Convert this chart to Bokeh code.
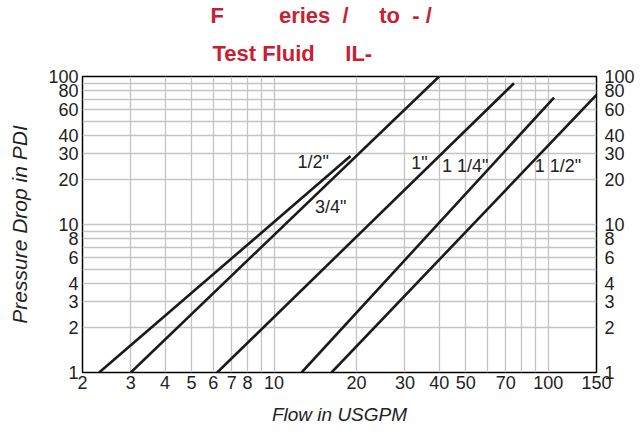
from bokeh.plotting import figure
from bokeh.models import FixedTicker, LogAxis, Title, CustomJSTickFormatter, ColumnDataSource, Range1d
from bokeh.core.properties import value
from bokeh.embed import file_html
from bokeh.resources import INLINE

# ---- data ----
sizes = ['1/2"', '3/4"', '1"', '1 1/4"', '1 1/2"']
flow_start = [2.3, 3.0, 6.2, 12.6, 16.2]
flow_end = [19.0, 40.0, 75.0, 105.0, 150.0]
pd_start = [1.0, 1.0, 1.0, 1.0, 1.0]
pd_end = [29.0, 100.0, 90.0, 72.0, 75.0]

label_flow = [13.9, 16.1, 33.9, 49.8, 108.6]
label_pd = [26.6, 13.2, 26.2, 25.0, 25.0]

x_ticks = [2, 3, 4, 5, 6, 7, 8, 10, 20, 30, 40, 50, 70, 100, 150]
y_ticks = [1, 2, 3, 4, 6, 8, 10, 20, 30, 40, 60, 80, 100]
x_grid = [2, 3, 4, 5, 6, 7, 8, 9, 10, 20, 30, 40, 50, 60, 70, 80, 90, 100]
y_grid = [1, 2, 3, 4, 5, 6, 7, 8, 9, 10, 20, 30, 40, 50, 60, 70, 80, 90, 100]

NB = "\u00a0"
title_line1 = "F" + NB * 9 + "eries" + NB * 2 + "/" + NB * 5 + "to" + NB * 2 + "-" + NB + "/"
title_line2 = "Test Fluid" + NB * 5 + "IL-"

FONT = "Liberation Sans"
RED = "#c62032"
TXT = "#222222"

p = figure(x_axis_type="log", y_axis_type="log",
           x_range=Range1d(2, 150), y_range=Range1d(1, 100),
           frame_width=514, frame_height=296,
           min_border_left=10, min_border_right=0, min_border_top=10, min_border_bottom=10,
           output_backend="svg", toolbar_location=None,
           background_fill_color="white", border_fill_color="white")
p.margin = (0, 0, 0, 5)

p.outline_line_color = "black"
p.outline_line_width = 1.5

fmt = CustomJSTickFormatter(code="return String(Math.round(tick));")

for ax in [p.xaxis[0], p.yaxis[0]]:
    ax.major_tick_line_color = None
    ax.minor_tick_line_color = None
    ax.axis_line_color = None
    ax.major_label_text_font = FONT
    ax.major_label_text_font_size = "18px"
    ax.major_label_text_color = TXT
    ax.axis_label_text_font = FONT
    ax.axis_label_text_font_style = "italic"
    ax.axis_label_text_color = TXT
    ax.formatter = fmt
    ax.major_tick_out = 0
    ax.major_tick_in = 0

p.xaxis[0].ticker = FixedTicker(ticks=x_ticks)
p.yaxis[0].ticker = FixedTicker(ticks=y_ticks)
p.xaxis[0].axis_label = "Flow in USGPM"
p.yaxis[0].axis_label = "Pressure Drop in PDI"
p.xaxis[0].axis_label_text_font_size = "19px"
p.yaxis[0].axis_label_text_font_size = "21px"
p.xaxis[0].major_label_standoff = 3
p.yaxis[0].major_label_standoff = 4
p.xaxis[0].axis_label_standoff = 12
p.yaxis[0].axis_label_standoff = 14

ry = LogAxis(ticker=FixedTicker(ticks=y_ticks), formatter=fmt)
ry.major_tick_line_color = None
ry.minor_tick_line_color = None
ry.axis_line_color = None
ry.major_tick_out = 0
ry.major_tick_in = 0
ry.major_label_text_font = FONT
ry.major_label_text_font_size = "18px"
ry.major_label_text_color = TXT
ry.major_label_standoff = 8
p.add_layout(ry, "right")

p.xgrid.ticker = FixedTicker(ticks=x_grid)
p.ygrid.ticker = FixedTicker(ticks=y_grid)
for g in [p.xgrid[0], p.ygrid[0]]:
    g.grid_line_color = "#c4c4c4"
    g.grid_line_width = 1.3

src = ColumnDataSource(dict(x0=flow_start, y0=pd_start, x1=flow_end, y1=pd_end))
p.segment(x0="x0", y0="y0", x1="x1", y1="y1", source=src, line_color="#1a1a1a", line_width=2.6)

lsrc = ColumnDataSource(dict(x=label_flow, y=label_pd, t=sizes))
p.text(x="x", y="y", text="t", source=lsrc, text_font=value(FONT), text_font_size="18px",
       text_color=TXT, text_align="center", text_baseline="middle")

# two-line title: first added sits nearest to the frame
p.add_layout(Title(text=title_line2, align="left", offset=130, standoff=22,
                   text_font=FONT, text_font_size="22px", text_font_style="bold",
                   text_color=RED), "above")
p.add_layout(Title(text=title_line1, align="left", offset=128, standoff=0,
                   text_font=FONT, text_font_size="22px", text_font_style="bold",
                   text_color=RED), "above")

open("out.html", "w").write(file_html(p, INLINE))
